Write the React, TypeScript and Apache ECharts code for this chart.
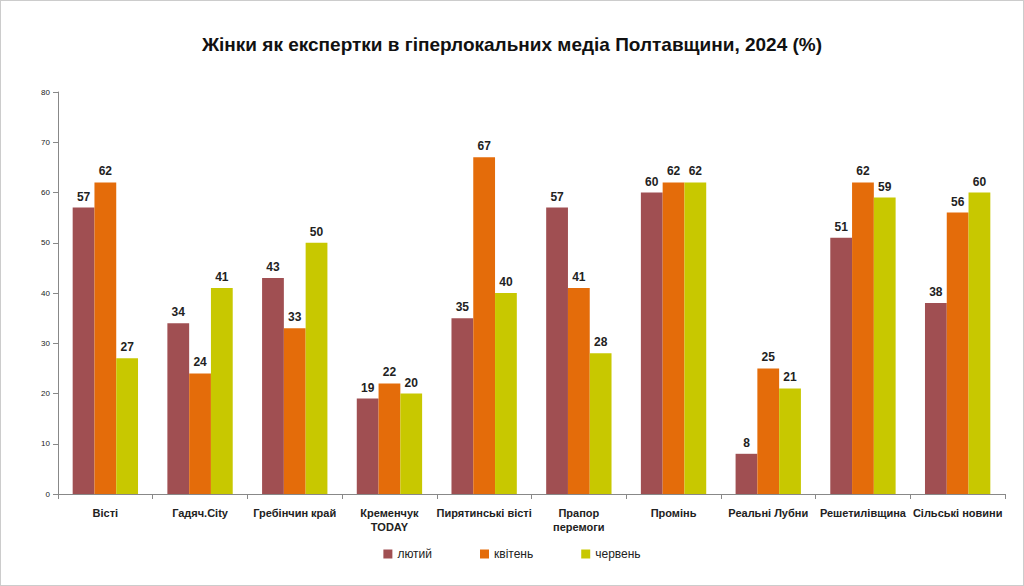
import { useEffect, useRef } from 'react';
import * as echarts from 'echarts';

const categories = [
  'Вісті',
  'Гадяч.City',
  'Гребінчин край',
  'Кременчук\nTODAY',
  'Пирятинські вісті',
  'Прапор\nперемоги',
  'Промінь',
  'Реальні Лубни',
  'Решетилівщина',
  'Сільські новини',
];
const february = [57, 34, 43, 19, 35, 57, 60, 8, 51, 38];
const april = [62, 24, 33, 22, 67, 41, 62, 25, 62, 56];
const june = [27, 41, 50, 20, 40, 28, 62, 21, 59, 60];

const seriesNames = ['лютий', 'квітень', 'червень'];
const seriesColors = ['#A04F52', '#E46C0A', '#C8C800'];

export default function App() {
  const ref = useRef<HTMLDivElement | null>(null);

  useEffect(() => {
    if (!ref.current) return;
    const chart = echarts.init(ref.current, null, { renderer: 'svg' });
    const label = {
      show: true,
      position: 'top' as const,
      fontSize: 12,
      fontWeight: 'bold' as const,
      color: '#222',
      fontFamily: 'Liberation Sans, Arial, sans-serif',
    };
    chart.setOption({
      animation: false,
      textStyle: { fontFamily: 'Liberation Sans, Arial, sans-serif' },
      title: {
        text: 'Жінки як експертки в гіперлокальних медіа Полтавщини, 2024 (%)',
        left: 'center',
        top: 29,
        textStyle: { fontSize: 19, fontWeight: 'bold', color: '#111' },
      },
      legend: {
        bottom: 20,
        left: 'center',
        itemWidth: 9,
        itemHeight: 9,
        itemGap: 48,
        icon: 'rect',
        textStyle: { fontSize: 12, color: '#222' },
        data: seriesNames,
      },
      grid: { left: 57, right: 18, top: 91, bottom: 91 },
      xAxis: {
        type: 'category',
        data: categories,
        axisLine: { lineStyle: { color: '#888' } },
        axisTick: { show: true, lineStyle: { color: '#888' } },
        axisLabel: { fontSize: 11, fontWeight: 'bold', color: '#222', interval: 0, margin: 12, lineHeight: 14 },
      },
      yAxis: {
        type: 'value',
        min: 0,
        max: 80,
        interval: 10,
        splitLine: { show: false },
        axisLine: { show: true, lineStyle: { color: '#888' } },
        axisTick: { show: true, lineStyle: { color: '#888' } },
        axisLabel: { fontSize: 8, color: '#222' },
      },
      series: [february, april, june].map((data, i) => ({
        name: seriesNames[i],
        type: 'bar',
        data,
        barGap: '0%',
        barCategoryGap: '31%',
        itemStyle: { color: seriesColors[i] },
        label,
      })),
    });
    return () => chart.dispose();
  }, []);

  return (
    <div
      ref={ref}
      style={{
        position: 'fixed',
        left: 0,
        top: 0,
        width: 1022,
        height: 584,
        border: '1px solid #ccc',
        background: '#fff',
      }}
    />
  );
}
